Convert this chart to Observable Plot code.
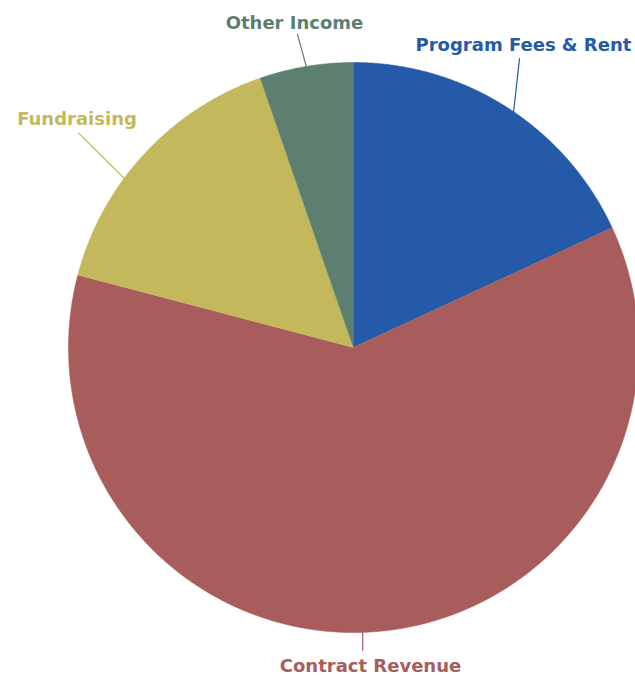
<!DOCTYPE html>
<html><head><meta charset="utf-8">
<script src="https://cdn.jsdelivr.net/npm/d3@7"></script>
<script src="https://cdn.jsdelivr.net/npm/@observablehq/plot@0.6"></script>
<style>html,body{margin:0;padding:0;background:#fff;overflow:hidden}</style>
</head><body><div id="chart"></div>
<script>
// ---- data ----
const categories = ["Program Fees & Rent", "Contract Revenue", "Fundraising", "Other Income"];
const values = [18.1, 61.0, 15.6, 5.3];
const colors = ["#245aa7", "#a85c5b", "#c3b85b", "#5c7f70"];

// ---- label layout (angle offsets in degrees from slice mid, radii relative to pie radius) ----
const labelLayout = [
  {da: -3.27, r: 1.218, s: 1.6, e: -2.7, er: 1.169},
  {da: 1.99, r: 1.121, s: 3.2, e: 3.3, er: 1.063},
  {da: -3.36, r: 1.257, s: -6.4, e: -4.9, er: 1.223},
  {da: -0.76, r: 1.158, s: 0.0, e: -0.6, er: 1.116}
];

const total = d3.sum(values);
const rad = (deg) => deg * Math.PI / 180;
const pt = (deg, r) => ({x: r * Math.sin(rad(deg)), y: r * Math.cos(rad(deg))});

let acc = 0;
const slices = categories.map((c, i) => {
  const a0 = acc / total * 360;
  acc += values[i];
  const a1 = acc / total * 360;
  return {category: c, color: colors[i], a0, a1, mid: (a0 + a1) / 2};
});

const wedgePts = [];
slices.forEach(s => {
  wedgePts.push({category: s.category, color: s.color, ...pt(0, 0)});
  const n = Math.max(2, Math.ceil((s.a1 - s.a0) / 0.25));
  for (let k = 0; k <= n; k++) {
    wedgePts.push({category: s.category, color: s.color, ...pt(s.a0 + (s.a1 - s.a0) * k / n, 1)});
  }
});

const leaders = [];
slices.forEach((s, i) => {
  const L = labelLayout[i];
  leaders.push({category: s.category, color: s.color, ...pt(s.mid + L.s, 1)});
  leaders.push({category: s.category, color: s.color, ...pt(s.mid + L.e, L.er)});
});

const labels = slices.map((s, i) => ({category: s.category, color: s.color, ...pt(s.mid + labelLayout[i].da, labelLayout[i].r)}));

const cx = 353, cy = 347, R = 285;
const chart = Plot.plot({
  width: 635,
  height: 676,
  margin: 0,
  x: {domain: [-1, 1], range: [cx - R, cx + R], axis: null},
  y: {domain: [-1, 1], range: [cy + R, cy - R], axis: null},
  color: {type: "identity"},
  style: {background: "#fff"},
  marks: [
    Plot.line(wedgePts, {x: "x", y: "y", z: "category", fill: "color", stroke: "color", strokeWidth: 0.6, curve: "linear"}),
    Plot.line(leaders, {x: "x", y: "y", z: "category", stroke: "color", strokeWidth: 1.2}),
    Plot.text(labels, {x: "x", y: "y", text: "category", fill: "color", fontSize: 18, fontWeight: "bold", fontFamily: "DejaVu Sans", textAnchor: "middle"})
  ]
});
document.getElementById("chart").appendChild(chart);
</script>
</body></html>
